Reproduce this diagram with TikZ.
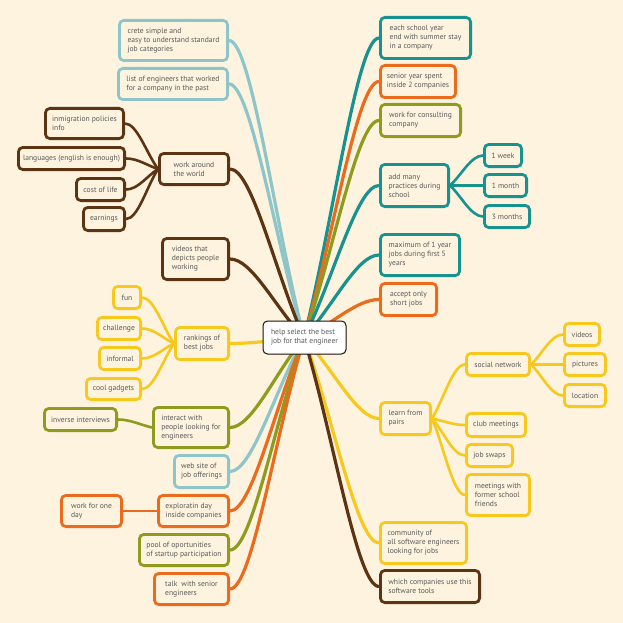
\documentclass[tikz,border=0pt]{standalone}
\usepackage{fontspec}
\setmainfont{PT Sans}
\usetikzlibrary{calc}
\definecolor{bgc}{HTML}{FDF3DF}
\definecolor{txt}{HTML}{595959}
\definecolor{lblue}{HTML}{8DC5C9}
\definecolor{teal}{HTML}{17928F}
\definecolor{brn}{HTML}{5C3411}
\definecolor{yel}{HTML}{F7C81E}
\definecolor{olv}{HTML}{8E9B1E}
\definecolor{orng}{HTML}{EC6A1C}
\pgfdeclarelayer{bg}
\pgfsetlayers{bg,main}
\newcommand\mnode[7]{\node[box,#6,minimum width=#4pt-2.8pt,minimum height=#5pt-2.8pt] (#1) at (#2,#3) {#7};}
\newcommand\rc[2]{\draw[conn,#1] (S) .. controls ($(S)!0.4!(#2.west)$) and ($(#2.west)+(-22,0)$) .. (#2.west);}
\newcommand\lc[2]{\draw[conn,#1] (S) .. controls ($(S)!0.4!(#2.east)$) and ($(#2.east)+(22,0)$) .. (#2.east);}
\newcommand\rs[3]{\draw[subc,#1] (#2.east) .. controls ($(#2.east)!0.35!(#3.west)$) and ($(#3.west)+(-12,0)$) .. (#3.west);}
\newcommand\ls[3]{\draw[subc,#1] (#2.west) .. controls ($(#2.west)!0.35!(#3.east)$) and ($(#3.east)+(12,0)$) .. (#3.east);}
\begin{document}
\begin{tikzpicture}[x=1pt,y=-1pt,
  box/.style={draw,line width=2.8pt,rounded corners=4.5pt,fill=bgc,text=txt,
    font=\fontsize{7.6}{9}\selectfont,align=left,inner sep=2pt},
  conn/.style={line width=3.2pt},
  subc/.style={line width=2.6pt},
  cb/.style={draw=lblue},
  ct/.style={draw=teal},
  cbr/.style={draw=brn},
  cy/.style={draw=yel},
  co/.style={draw=olv},
  cor/.style={draw=orng}]
\useasboundingbox (0,0) rectangle (623,623);
% central node
\node[box,fill=white,draw=black!70!brn,line width=1pt,minimum width=83pt,minimum height=33pt] (C) at (304.5,337.5) {help select the best\\job for that engineer};
\coordinate (S) at (304,338);
% left side
\mnode{crete}{173.5}{40.5}{111}{43}{cb}{crete simple and\\easy to understand standard\\job categories}
\mnode{list}{173}{84}{112}{34}{cb}{list of engineers that worked\\for a company in the past}
\mnode{imm}{84.5}{123.5}{81}{33}{cbr}{inmigration policies\\info}
\mnode{lang}{71.5}{158.5}{109}{25}{cbr}{languages (english is enough)}
\mnode{work}{194}{169}{72}{34}{cbr}{work around\\the world}
\mnode{cost}{100.5}{189.5}{51}{25}{cbr}{cost of life}
\mnode{earn}{104}{219}{44}{26}{cbr}{earnings}
\mnode{vids}{195.5}{259}{69}{44}{cbr}{videos that\\depicts people\\working}
\mnode{fun}{127}{297.5}{30}{25}{cy}{fun}
\mnode{chal}{119}{328.5}{46}{25}{cy}{challenge}
\mnode{rank}{202}{343.5}{56}{35}{cy}{rankings of\\best jobs}
\mnode{inf}{120}{358.5}{44}{25}{cy}{informal}
\mnode{cool}{113.5}{389}{57}{24}{cy}{cool gadgets}
\mnode{invi}{80.5}{419.5}{75}{25}{co}{inverse interviews}
\mnode{inter}{191}{427.5}{78}{43}{co}{interact with\\people looking for\\engineers}
\mnode{web}{201.5}{471.5}{57}{35}{cb}{web site of\\job offerings}
\mnode{wone}{91.5}{511}{63}{34}{cor}{work for one\\day}
\mnode{expl}{193.5}{511}{73}{34}{cor}{exploratin day\\inside companies}
\mnode{pool}{184}{550}{92}{34}{co}{pool of oportunities\\of startup participation}
\mnode{talk}{191.5}{589}{77}{34}{cor}{talk~ with senior\\engineers}
% right side
\mnode{each}{425.5}{38}{93}{44}{ct}{each school year\\end with summer stay\\in a company}
\mnode{senior}{418}{81.5}{78}{35}{cor}{senior year spent\\inside 2 companies}
\mnode{cons}{420.5}{120.5}{83}{35}{co}{work for consulting\\company}
\mnode{add}{414.5}{185.5}{71}{45}{ct}{add many\\practices during\\school}
\mnode{wk}{503}{155.5}{40}{25}{ct}{1 week}
\mnode{mo}{505.5}{185.5}{45}{25}{ct}{1 month}
\mnode{mo3}{507}{216.5}{48}{25}{ct}{3 months}
\mnode{max}{420}{255}{82}{44}{ct}{maximum of 1 year\\jobs during first 5\\years}
\mnode{acc}{408.5}{299.5}{59}{35}{cor}{accept only\\short jobs}
\mnode{soc}{498}{364.5}{66}{25}{cy}{social network}
\mnode{vid}{582}{334.5}{38}{25}{cy}{videos}
\mnode{pic}{585}{364.5}{44}{25}{cy}{pictures}
\mnode{loc}{585}{395.5}{44}{25}{cy}{location}
\mnode{learn}{405.5}{418.5}{53}{35}{cy}{learn from\\pairs}
\mnode{club}{496}{425}{62}{26}{cy}{club meetings}
\mnode{swap}{489.5}{455.5}{49}{25}{cy}{job swaps}
\mnode{meet}{498}{495}{66}{44}{cy}{meetings with\\former school\\friends}
\mnode{comm}{423.5}{543}{89}{44}{cy}{community of\\all software engineers\\looking for jobs}
\mnode{which}{430}{586.5}{102}{35}{cbr}{which companies use this\\software tools}
\begin{pgfonlayer}{bg}
\fill[bgc] (0,0) rectangle (623,623);
% main connectors left
\lc{lblue}{crete}
\lc{lblue}{list}
\lc{brn}{work}
\lc{brn}{vids}
\lc{yel}{rank}
\lc{olv}{inter}
\lc{lblue}{web}
\lc{orng}{expl}
\lc{olv}{pool}
\lc{orng}{talk}
% main connectors right
\rc{teal}{each}
\rc{orng}{senior}
\rc{olv}{cons}
\rc{teal}{add}
\rc{teal}{max}
\rc{orng}{acc}
\rc{yel}{learn}
\rc{yel}{comm}
\rc{brn}{which}
% sub connectors
\ls{brn}{work}{imm}
\ls{brn}{work}{lang}
\ls{brn}{work}{cost}
\ls{brn}{work}{earn}
\ls{yel}{rank}{fun}
\ls{yel}{rank}{chal}
\ls{yel}{rank}{inf}
\ls{yel}{rank}{cool}
\ls{olv}{inter}{invi}
\ls{orng}{expl}{wone}
\rs{teal}{add}{wk}
\rs{teal}{add}{mo}
\rs{teal}{add}{mo3}
\rs{yel}{soc}{vid}
\rs{yel}{soc}{pic}
\rs{yel}{soc}{loc}
\rs{yel}{learn}{soc}
\rs{yel}{learn}{club}
\rs{yel}{learn}{swap}
\rs{yel}{learn}{meet}
\end{pgfonlayer}
\end{tikzpicture}
\end{document}
